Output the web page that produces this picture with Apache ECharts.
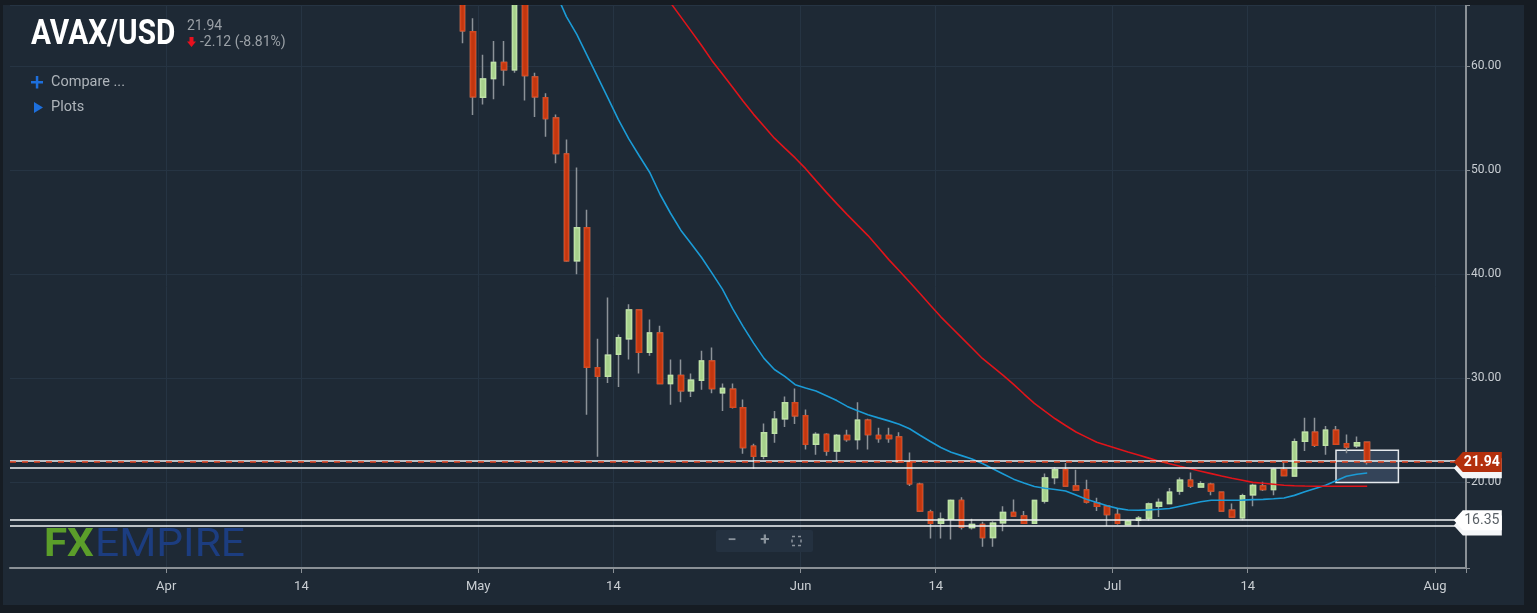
<!DOCTYPE html>
<html>
<head>
<meta charset="utf-8">
<title>AVAX/USD</title>
<script src="https://cdn.jsdelivr.net/npm/echarts@6/dist/echarts.min.js"></script>
<style>
  html, body { margin: 0; padding: 0; background: #161c23; }
  #chart { width: 1537px; height: 613px; }
</style>
</head>
<body>
<div id="chart"></div>
<script>
// daily axis 2022-03-17 .. 2022-08-03, candles 2022-04-29 .. 2022-07-26
var axisStart = Date.UTC(2022, 2, 17);
var axisDays = 140;
var candleOffset = 43;
var monthNames = ['Jan', 'Feb', 'Mar', 'Apr', 'May', 'Jun', 'Jul', 'Aug', 'Sep', 'Oct', 'Nov', 'Dec'];

var opens = [67.5, 63.3, 57.0, 58.8, 60.35, 59.65, 67.4, 58.95, 56.95, 55.0,
  51.55, 41.3, 44.45, 31.0, 30.2, 32.3, 33.8, 36.55, 32.5, 34.35,
  29.5, 30.25, 28.8, 29.8, 31.65, 28.6, 28.95, 27.15, 23.45, 22.5,
  24.7, 26.1, 27.65, 26.4, 23.65, 24.6, 23.0, 24.5, 24.1, 25.95,
  24.5, 24.5, 24.35, 21.95, 19.8, 17.15, 16.05, 16.45, 18.25, 15.65,
  15.95, 14.7, 16.1, 17.1, 16.75, 16.05, 18.2, 20.45, 21.2, 19.65,
  19.25, 18.0, 17.7, 16.9, 15.95, 16.35, 16.55, 17.7, 17.95, 19.15,
  20.2, 19.55, 19.8, 19.05, 17.3, 16.6, 18.8, 19.65, 19.3, 21.2,
  20.6, 23.95, 24.8, 23.55, 25.0, 23.7, 23.5, 23.85];
var closes = [63.4, 57.05, 58.75, 60.35, 59.65, 67.5, 59.1, 57.05, 54.95, 51.6,
  41.3, 44.45, 31.05, 30.2, 32.2, 33.9, 36.55, 32.5, 34.35, 29.5,
  30.25, 28.8, 29.8, 31.65, 29.0, 29.0, 27.2, 23.35, 22.5, 24.75,
  26.05, 27.65, 26.4, 23.65, 24.6, 23.0, 24.5, 24.1, 25.95, 24.6,
  24.2, 24.2, 21.95, 19.85, 17.25, 16.05, 16.45, 18.25, 15.7, 15.95,
  14.7, 16.05, 17.1, 16.75, 16.05, 18.25, 20.4, 21.2, 19.65, 19.25,
  18.1, 17.7, 16.9, 16.05, 16.25, 16.55, 17.9, 18.05, 19.05, 20.2,
  19.65, 19.85, 19.15, 17.25, 16.65, 18.7, 19.7, 19.3, 21.25, 20.65,
  23.9, 24.8, 23.55, 25.0, 23.65, 23.4, 23.8, 21.94];
var lows = [62.2, 55.3, 56.3, 56.8, 58.1, 59.35, 56.7, 55.1, 53.2, 50.65,
  41.2, 40.0, 26.5, 22.45, 29.55, 29.15, 31.8, 30.45, 32.15, 29.45,
  27.45, 27.7, 28.2, 28.9, 28.55, 26.85, 27.1, 22.75, 21.3, 22.2,
  23.8, 25.3, 25.6, 23.15, 22.65, 22.55, 22.05, 23.9, 23.15, 23.15,
  23.8, 23.8, 21.9, 19.65, 17.15, 14.6, 14.6, 14.5, 15.45, 15.45,
  13.8, 13.8, 15.3, 16.7, 16.0, 16.0, 17.95, 19.8, 19.6, 19.2,
  17.95, 17.25, 15.8, 15.95, 15.9, 15.75, 16.3, 16.65, 17.95, 18.8,
  19.45, 19.55, 18.75, 17.25, 16.65, 16.35, 17.7, 19.15, 18.75, 20.6,
  20.55, 23.0, 23.4, 22.65, 23.6, 22.8, 23.3, 21.7];
var highs = [68.5, 64.6, 61.1, 62.4, 62.4, 68.5, 68.0, 59.35, 57.4, 55.35,
  52.95, 50.25, 46.2, 33.8, 37.75, 34.2, 37.1, 36.6, 35.65, 35.05,
  31.8, 31.8, 30.45, 32.65, 32.95, 29.5, 29.5, 27.95, 23.7, 25.65,
  26.85, 28.25, 29.0, 27.0, 24.8, 24.7, 24.65, 25.05, 27.7, 26.1,
  25.25, 25.25, 24.8, 22.85, 19.95, 17.35, 17.1, 18.35, 18.55, 16.5,
  16.2, 16.25, 17.7, 18.35, 17.25, 18.3, 20.85, 21.45, 21.85, 21.2,
  20.25, 18.5, 17.8, 17.45, 16.4, 16.75, 18.05, 18.45, 19.45, 20.45,
  20.95, 20.1, 19.95, 19.05, 17.95, 18.9, 19.85, 20.05, 21.4, 21.95,
  24.2, 26.2, 26.2, 25.4, 25.4, 24.6, 24.4, 23.85];

// moving averages as plotted (blue = fast, red = slow)
var maFast = [null, null, null, null, null, null, null, null, 68.7, 67.0,
  64.76, 63.05, 61.0, 58.96, 56.92, 54.86, 53.0, 51.38, 49.8, 47.68,
  45.88, 44.23, 42.92, 41.6, 40.1, 38.56, 36.66, 34.96, 33.37, 31.91,
  30.84, 30.17, 29.38, 29.07, 28.78, 28.32, 27.85, 27.29, 26.88, 26.49,
  26.19, 25.9, 25.58, 25.14, 24.52, 23.92, 23.34, 22.88, 22.56, 22.23,
  21.8, 21.3, 20.8, 20.3, 19.93, 19.6, 19.43, 19.3, 19.16, 18.77,
  18.37, 18.05, 17.75, 17.49, 17.33, 17.31, 17.35, 17.41, 17.48, 17.7,
  17.91, 18.12, 18.27, 18.27, 18.27, 18.28, 18.33, 18.36, 18.42, 18.49,
  18.74, 19.09, 19.4, 19.71, 20.14, 20.57, 20.77, 20.89];
var maSlow = [null, null, null, null, null, null, null, null, null, null,
  null, null, null, null, null, null, null, null, null, 67.48,
  66.1, 64.73, 63.36, 61.98, 60.52, 59.23, 57.94, 56.63, 55.36, 54.21,
  53.07, 52.11, 51.17, 50.14, 48.99, 47.86, 46.78, 45.72, 44.71, 43.71,
  42.56, 41.4, 40.33, 39.25, 38.14, 37.02, 35.9, 34.9, 33.9, 32.9,
  31.9, 31.09, 30.28, 29.41, 28.48, 27.59, 26.83, 26.1, 25.46, 24.83,
  24.34, 23.85, 23.53, 23.22, 22.91, 22.62, 22.32, 22.03, 21.78, 21.53,
  21.29, 21.06, 20.83, 20.6, 20.39, 20.19, 19.99, 19.9, 19.81, 19.71,
  19.67, 19.64, 19.62, 19.62, 19.62, 19.62, 19.62, 19.62];

// drawn levels
var lastPrice = 21.94;
var supportLevel = 16.35;
var whiteLines = [22.05, 21.35, 16.35, 15.84];
var boxRange = { from: '2022-07-22', to: '2022-07-28', top: 23.08, bottom: 19.97 };

var days = [];
for (var i = 0; i < axisDays; i++) {
  days.push(new Date(axisStart + i * 86400000).toISOString().slice(0, 10));
}

function pad(arr) {
  var out = [];
  for (var i = 0; i < axisDays; i++) {
    var j = i - candleOffset;
    out.push(j >= 0 && j < arr.length ? arr[j] : null);
  }
  return out;
}

var wickData = [];
var bodyData = [];
for (var i = 0; i < axisDays; i++) {
  var j = i - candleOffset;
  if (j >= 0 && j < opens.length) {
    wickData.push([opens[j], closes[j], lows[j], highs[j]]);
    bodyData.push([opens[j], closes[j], Math.min(opens[j], closes[j]), Math.max(opens[j], closes[j])]);
  } else {
    wickData.push('-');
    bodyData.push('-');
  }
}

function isLabelDay(index, value) {
  var d = value.slice(8, 10);
  return d === '01' || d === '14';
}

var tagPath = 'path://M0,10L9,0L48,0L48,20L9,20Z';
var lastDay = days[days.length - 1];

var chart = echarts.init(document.getElementById('chart'));
chart.setOption({
  backgroundColor: '#1e2935',
  animation: false,
  grid: { left: 10, right: 71, top: 5, bottom: 45 },
  xAxis: {
    type: 'category',
    data: days,
    boundaryGap: true,
    axisLine: { lineStyle: { color: '#8a9096', width: 2 } },
    axisTick: { show: true, alignWithLabel: false, interval: isLabelDay, length: 5, lineStyle: { color: '#8a9096' } },
    axisLabel: {
      interval: isLabelDay,
      color: '#c9ced3',
      fontFamily: 'Roboto',
      fontSize: 13,
      margin: 12,
      padding: [0, 10, 0, 0],
      formatter: function (v) {
        var d = v.slice(8, 10);
        return d === '01' ? monthNames[parseInt(v.slice(5, 7), 10) - 1] : '14';
      }
    },
    splitLine: { show: true, interval: isLabelDay, lineStyle: { color: '#263443', width: 1 } }
  },
  yAxis: {
    type: 'value',
    position: 'right',
    min: 11.76,
    max: 65.87,
    splitNumber: 5,
    axisLine: { show: true, lineStyle: { color: '#8a9096', width: 2 } },
    axisTick: { show: true, length: 4, lineStyle: { color: '#8a9096' } },
    axisLabel: {
      color: '#c9ced3',
      fontFamily: 'Roboto',
      fontSize: 12,
      margin: 5,
      formatter: function (v) { return Math.abs(v % 10) < 1e-6 ? v.toFixed(2) : ''; }
    },
    splitLine: { show: true, lineStyle: { color: '#263443', width: 1 } }
  },
  series: [
    {
      name: 'wicks',
      type: 'candlestick',
      data: wickData,
      barWidth: 5,
      itemStyle: {
        color: 'transparent', color0: 'transparent',
        borderColor: '#8c9298', borderColor0: '#8c9298', borderWidth: 1.5
      },
      markLine: {
        silent: true,
        symbol: ['none', 'none'],
        label: { show: false },
        lineStyle: { color: '#f2f4f6', width: 1.5, type: 'solid' },
        data: whiteLines.map(function (v) { return { yAxis: v }; })
      }
    },
    {
      name: 'bodies',
      type: 'candlestick',
      data: bodyData,
      barWidth: 5,
      itemStyle: {
        color: '#a6d08b', color0: '#c2360f',
        borderColor: '#bde2a4', borderColor0: '#d6481f', borderWidth: 1.5
      },
      markLine: {
        silent: true,
        symbol: ['none', 'none'],
        label: { show: false },
        lineStyle: { color: '#e2401c', width: 1.5, type: [6, 6] },
        data: [{ yAxis: lastPrice }]
      },
      markArea: {
        silent: true,
        itemStyle: { color: 'rgba(120,150,200,0.25)', borderColor: '#e6eaee', borderWidth: 1.5 },
        data: [[{ xAxis: boxRange.from, yAxis: boxRange.top }, { xAxis: boxRange.to, yAxis: boxRange.bottom }]]
      }
    },
    {
      name: 'MA fast',
      type: 'line',
      data: pad(maFast),
      showSymbol: false,
      symbol: 'none',
      lineStyle: { color: '#1b9bd6', width: 1.6 },
      z: 3
    },
    {
      name: 'MA slow',
      type: 'line',
      data: pad(maSlow),
      showSymbol: false,
      symbol: 'none',
      lineStyle: { color: '#e0141a', width: 1.6 },
      z: 3
    },
    {
      // price tags on the axis
      name: 'tags',
      type: 'line',
      data: [],
      markPoint: {
        silent: true,
        symbol: tagPath,
        symbolSize: [48, 20],
        symbolOffset: [17, 0],
        symbolKeepAspect: false,
        data: [
          { coord: [lastDay, 21.35], itemStyle: { color: '#f4f6f8' }, label: { show: false } },
          { coord: [lastDay, 15.84], itemStyle: { color: '#f4f6f8' }, label: { show: false } },
          {
            coord: [lastDay, supportLevel], itemStyle: { color: '#ffffff' },
            label: { show: true, formatter: supportLevel.toFixed(2), color: '#5a6066', fontSize: 14, fontFamily: 'Roboto', offset: [4, 0] }
          },
          {
            coord: [lastDay, lastPrice], itemStyle: { color: '#b3300d' },
            label: { show: true, formatter: lastPrice.toFixed(2), color: '#ffffff', fontSize: 14, fontWeight: 'bold', fontFamily: 'Roboto', offset: [4, 0] }
          }
        ]
      }
    }
  ],
  graphic: [
    { type: 'rect', shape: { x: 0, y: 0, width: 1537, height: 5 }, style: { fill: '#161c23' }, z: 100 },
    { type: 'rect', shape: { x: 0, y: 0, width: 3, height: 613 }, style: { fill: '#161c23' }, z: 100 },
    { type: 'rect', shape: { x: 1524, y: 0, width: 13, height: 613 }, style: { fill: '#161c23' }, z: 100 },
    { type: 'rect', shape: { x: 0, y: 605, width: 1537, height: 8 }, style: { fill: '#161c23' }, z: 100 },
    // header
    { type: 'text', x: 31, y: 35, scaleX: 0.85, style: { text: 'AVAX/USD', font: 'bold 35px Roboto', fill: '#ffffff', align: 'left', verticalAlign: 'middle' }, z: 50 },
    { type: 'text', x: 187, y: 26, style: { text: '21.94', font: '14px Roboto', fill: '#9ba1a7', align: 'left', verticalAlign: 'middle' }, z: 50 },
    { type: 'polygon', shape: { points: [[189.5, 37], [193.5, 37], [193.5, 41.5], [196, 41.5], [191.5, 47], [187, 41.5], [189.5, 41.5]] }, style: { fill: '#e8101e' }, z: 50 },
    { type: 'text', x: 200, y: 42.5, style: { text: '-2.12 (-8.81%)', font: '14px Roboto', fill: '#9ba1a7', align: 'left', verticalAlign: 'middle' }, z: 50 },
    { type: 'rect', shape: { x: 31, y: 81, width: 12, height: 2.5 }, style: { fill: '#1d6fdc' }, z: 50 },
    { type: 'rect', shape: { x: 35.8, y: 76, width: 2.5, height: 12.5 }, style: { fill: '#1d6fdc' }, z: 50 },
    { type: 'text', x: 51, y: 82.5, style: { text: 'Compare ...', font: '14.5px Roboto', fill: '#aeb4ba', align: 'left', verticalAlign: 'middle' }, z: 50 },
    { type: 'polygon', shape: { points: [[34, 102], [43, 107.5], [34, 113]] }, style: { fill: '#1d6fdc' }, z: 50 },
    { type: 'text', x: 51, y: 107.5, style: { text: 'Plots', font: '14.5px Roboto', fill: '#aeb4ba', align: 'left', verticalAlign: 'middle' }, z: 50 },
    // logo
    { type: 'text', x: 44, y: 546, scaleX: 1.08, style: { text: 'FX', font: 'bold 39px Roboto', fill: '#5b9e2a', align: 'left', verticalAlign: 'middle' }, z: 50 },
    { type: 'text', x: 95, y: 546, scaleX: 1.09, style: { text: 'EMPIRE', font: '39px Roboto', fill: '#1c3d80', align: 'left', verticalAlign: 'middle' }, z: 50 },
    // zoom buttons
    { type: 'rect', shape: { x: 716, y: 530, width: 97, height: 22, r: 2 }, style: { fill: '#243140' }, z: 50 },
    { type: 'text', x: 732, y: 541, style: { text: '−', font: 'bold 16px Roboto', fill: '#8a939c', align: 'center', verticalAlign: 'middle' }, z: 51 },
    { type: 'text', x: 765, y: 541, style: { text: '+', font: 'bold 17px Roboto', fill: '#8a939c', align: 'center', verticalAlign: 'middle' }, z: 51 },
    { type: 'rect', shape: { x: 792, y: 536.5, width: 9, height: 9 }, style: { fill: 'none', stroke: '#8a939c', lineWidth: 1.5, lineDash: [3, 3] }, z: 51 }
  ]
});
</script>
</body>
</html>
